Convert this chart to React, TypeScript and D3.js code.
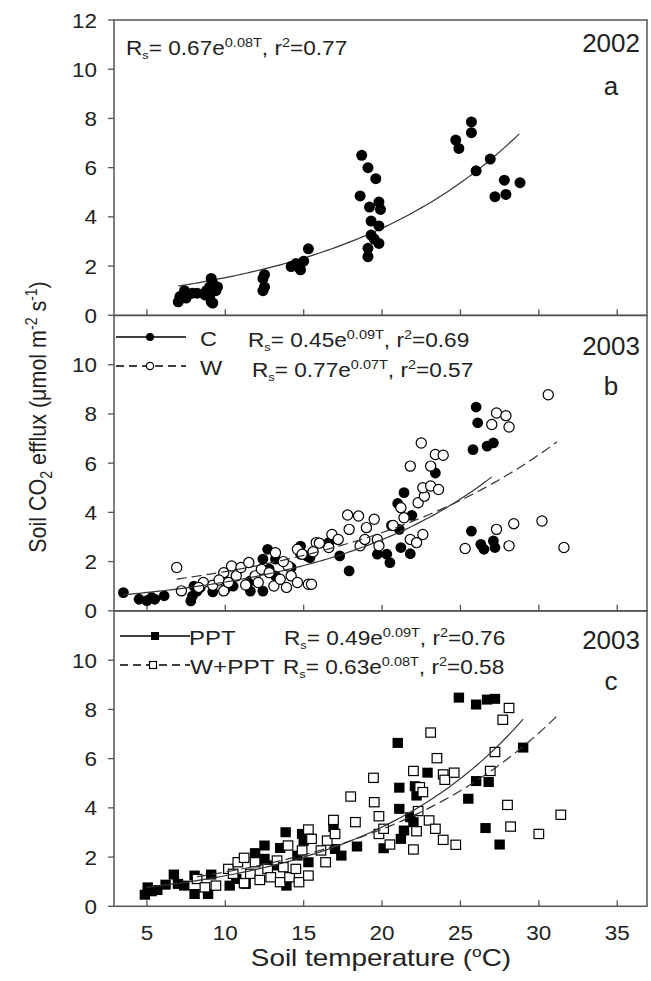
import React from 'react';
import * as d3 from 'd3';

// panel a, 2002
const aTemp = [7.0,7.1,7.4,7.5,7.9,8.2,8.7,9.0,9.1,9.2,9.1,9.0,9.4,9.5,8.8,9.2,7.4, 12.4,12.5,12.4,12.5, 14.2,14.5,14.8,15.0,15.3,14.6, 18.7,19.1,19.6,18.6,19.2,19.8,19.9,19.3,19.8,19.3,19.5,19.8,19.1,19.1, 24.7,24.9,25.7,25.7,26.0,26.9,27.2,27.8,27.9,28.8];
const aFlux = [0.55,0.76,0.9,0.7,0.9,0.9,0.83,1.15,1.5,1.3,0.55,0.76,1.0,1.15,1.0,0.5,1.0, 1.5,1.65,1.0,1.15, 1.98,2.1,1.85,2.2,2.7,1.98, 6.5,6.0,5.55,4.85,4.4,4.6,4.3,3.83,3.63,3.26,3.1,2.92,2.72,2.38, 7.12,6.78,7.86,7.42,5.87,6.35,4.82,5.49,4.91,5.39];

// panel b, 2003 control (C)
const cTemp = [3.5,4.5,5.0,5.3,5.5,6.1, 7.8,7.9,8.0,8.2,9.2,10.5,11.6,12.4, 12.7,12.4,12.8,13.2, 14.8,14.8,15.2, 16.6,17.3,17.9, 19.7,20.3,20.5,20.6,21.1,21.0,21.4,21.2,21.8,21.9, 23.4, 25.8,26.0,26.1,26.7,27.1, 25.7,26.3,26.5,27.1,27.2, 11.6,13.2,14.2,15.4,8.4,10.0];
const cFlux = [0.74,0.47,0.41,0.54,0.47,0.61, 0.4,0.6,1.0,0.8,0.77,1.0,0.8,0.8, 2.5,2.1,1.7,2.1, 2.63,2.3,2.23, 2.77,2.23,1.62, 2.3,2.3,1.96,3.47,3.31,4.36,4.8,2.57,2.32,3.88, 5.6, 6.55,8.28,7.64,6.69,6.82, 3.24,2.7,2.5,2.84,2.57, 1.22,1.42,1.76,2.16,0.95,0.88];

// panel b, 2003 warming (W)
const wTemp = [6.9,7.2,8.6,9.2,9.9,9.9,10.4,10.7,11.0,11.5, 11.9,12.3,12.8,13.2,13.1,13.5,13.9,14.0,14.2,14.6, 14.6,15.3,15.5,15.8,16.6,16.8,17.2,17.8,17.9,18.5, 18.6,19.0,18.9,19.5,19.7,19.8,20.7,21.2,21.4,21.8, 21.8,22.2,22.3,22.5,22.6,22.7,22.6,23.1,23.1,23.4, 23.6,23.9,25.3,27.0,27.3,27.3,27.9,28.1,28.1,28.4, 30.2,30.6,31.6, 8.3,9.6,10.2,11.3,12.1,13.7,14.9,15.6,16.0];
const wFlux = [1.76,0.81,1.15,1.04,1.55,0.81,1.82,1.42,1.76,1.96, 1.42,1.69,1.55,2.36,1.01,1.28,0.95,1.82,1.42,1.15, 2.5,1.08,1.08,2.77,2.57,3.1,2.9,3.89,3.31,3.85, 2.64,3.38,2.9,3.72,2.9,2.64,3.47,4.19,3.78,5.88, 2.9,2.77,4.39,6.82,3.1,4.66,5.0,5.88,5.07,6.35, 4.93,6.32,2.53,7.57,8.04,3.31,7.93,7.47,2.64,3.54, 3.65,8.78,2.57, 0.95,1.25,1.15,1.05,1.15,2.0,2.3,2.4,2.75];

// panel c, 2003 precipitation (PPT)
const pTemp = [4.87,5.05,5.3,5.66,6.19,6.72,6.98,7.38,8.04,8.04, 8.9,9.1,10.28,10.7,11.3,11.9,12.0,12.5,12.5,13.1, 13.5,13.85,13.9,14.6,14.9,15.0,15.3,16.9,17.0,17.4, 18.4,20.1,21.0,21.1,21.1,21.2,21.4,21.8,22.0,22.1, 22.2,22.9,24.9,25.5,26.0,26.0,26.6,26.7,26.8,27.2, 27.5,29.0];
const pFlux = [0.47,0.77,0.61,0.66,0.88,1.29,0.91,0.84,1.25,0.5, 0.5,1.29,0.84,1.11,0.91,2.16,1.86,2.47,1.93,1.66, 2.37,3.01,0.84,2.06,2.94,2.67,1.79,3.22,2.33,2.06, 2.43,2.36,6.64,4.82,3.96,2.74,3.08,3.62,3.42,4.88, 4.5,5.43,8.48,4.37,8.2,5.09,3.18,8.4,5.05,8.43, 2.51,6.45];

// panel c, 2003 warming + precipitation (W+PPT)
const qTemp = [8.2,8.7,9.4,10.2,10.5,10.8,11.2,11.2,11.6,11.9, 12.2,12.7,12.9,13.3,13.5,13.7,14.0,14.1,14.5,14.7, 14.9,15.3,15.3,15.5,16.1,16.4,16.5,16.9,17.0,18.0, 18.3,19.45,19.5,19.8,19.8,20.1,20.5,22.0,22.0,22.2, 22.3,22.4,22.6,23.0,23.1,23.4,23.5,23.9,23.9,24.0, 24.6,24.7,26.9,27.2,27.7,28.0,28.1,28.2,30.0,31.4];
const qFlux = [1.11,0.77,0.84,1.52,1.32,1.79,1.97,0.94,1.32,1.79, 1.07,1.52,1.18,1.86,0.98,1.59,2.47,1.18,1.52,0.98, 2.27,3.12,1.25,2.74,2.27,1.79,2.67,3.51,2.94,4.46, 3.42,5.22,4.23,3.66,2.94,3.15,2.51,2.31,5.5,3.05, 3.87,4.84,4.64,3.49,7.06,3.15,6.02,2.7,5.36,5.14, 5.43,2.5,5.5,6.27,7.58,4.12,8.06,3.24,2.94,3.72];

// fitted curves: [a, b, Tmin, Tmax]  Rs = a*exp(b*T)
const fitA = [0.661, 0.0839, 7.0, 28.9];
const fitC = [0.474, 0.0904, 3.5, 27.2];
const fitW = [0.80, 0.069, 6.9, 31.3];
const fitP = [0.478, 0.0954, 5.0, 29.0];
const fitQ = [0.62, 0.081, 8.2, 31.4];

const xTicks = [5, 10, 15, 20, 25, 30, 35];
const yTicksA = [0, 2, 4, 6, 8, 10, 12];
const yTicksBC = [0, 2, 4, 6, 8, 10];

const FONT = '"Liberation Sans", Arial, sans-serif';
const L = 114, R = 647;
const panelTops = [20, 315.5, 611];
const PH = 295.3;
const INK = '#222';
const FRAME = '#555';

const x = d3.scaleLinear().domain([2.9, 36.9]).range([L, R]);

// text drawn a bit wider than the font, like the scanned figure
function Txt({ x: tx, y: ty, size, sx = 1, anchor = 'start', children }) {
  return (
    <g transform={`translate(${tx},${ty}) scale(${sx},1)`}>
      <text x={0} y={0} textAnchor={anchor} fontSize={size} fontFamily={FONT} fill={INK}>{children}</text>
    </g>
  );
}

function Formula({ xx, yy, a, b, r2 }) {
  return (
    <Txt x={xx} y={yy} size={19.5} sx={1.16}>
      R<tspan dy={4} fontSize={11}>s</tspan>
      <tspan dy={-4}>= {a}e</tspan>
      <tspan dy={-8} fontSize={12.5}>{b}T</tspan>
      <tspan dy={8}>, r</tspan>
      <tspan dy={-8} fontSize={12.5}>2</tspan>
      <tspan dy={8}>={r2}</tspan>
    </Txt>
  );
}

function Panel({ top, yTicks, showX, children }) {
  const y = d3.scaleLinear().domain([0, 12]).range([top + PH, top]);
  return (
    <g>
      <rect x={L} y={top} width={R - L} height={PH} fill="none" stroke={FRAME} strokeWidth={1.5} />
      {yTicks.map(t => (
        <g key={'y' + t}>
          <line x1={L - 6} x2={L} y1={y(t)} y2={y(t)} stroke={FRAME} strokeWidth={1.3} />
          <Txt x={97} y={y(t) + 7.5} size={21} sx={1.07} anchor="end">{t}</Txt>
        </g>
      ))}
      {xTicks.map(t => (
        <g key={'x' + t}>
          <line x1={x(t)} x2={x(t)} y1={top + PH} y2={top + PH - 6} stroke={FRAME} strokeWidth={1.3} />
          {showX && <Txt x={x(t)} y={top + PH + 34} size={21} sx={1.07} anchor="middle">{t}</Txt>}
        </g>
      ))}
      {children(y)}
    </g>
  );
}

function curve(fit, y) {
  const [a, b, t0, t1] = fit;
  const pts = d3.range(t0, t1 + 0.001, 0.25).map(t => [t, a * Math.exp(b * t)]);
  return d3.line().x(d => x(d[0])).y(d => y(d[1]))(pts);
}

export default function App() {
  return (
    <svg width={651} height={981} style={{ position: 'absolute', left: 0, top: 0, background: '#fff' }}>
      <Panel top={panelTops[0]} yTicks={yTicksA} showX={false}>
        {y => (
          <g>
            <path d={curve(fitA, y)} fill="none" stroke="#333" strokeWidth={1.2} />
            {aTemp.map((t, i) => <circle key={i} cx={x(t)} cy={y(aFlux[i])} r={5.5} fill="#000" />)}
            <Formula xx={126} yy={55} a="0.67" b="0.08" r2="0.77" />
            <Txt x={640} y={52} size={26} anchor="end">2002</Txt>
            <Txt x={611} y={95} size={26} anchor="middle">a</Txt>
          </g>
        )}
      </Panel>
      <Panel top={panelTops[1]} yTicks={yTicksBC} showX={false}>
        {y => (
          <g>
            {cTemp.map((t, i) => <circle key={i} cx={x(t)} cy={y(cFlux[i])} r={5.4} fill="#000" />)}
            {wTemp.map((t, i) => <circle key={i} cx={x(t)} cy={y(wFlux[i])} r={5.1} fill="#fff" stroke="#000" strokeWidth={1.2} />)}
            <path d={curve(fitC, y)} fill="none" stroke="#333" strokeWidth={1.2} />
            <path d={curve(fitW, y)} fill="none" stroke="#333" strokeWidth={1.2} strokeDasharray="10,5" />
            <line x1={116} x2={186} y1={337} y2={337} stroke="#000" strokeWidth={1.5} />
            <circle cx={150} cy={337} r={4} fill="#000" />
            <Txt x={200} y={346} size={21} sx={1.12}>C</Txt>
            <line x1={116} x2={186} y1={366} y2={366} stroke="#000" strokeWidth={1.5} strokeDasharray="8,5" />
            <circle cx={150} cy={366} r={3.6} fill="#fff" stroke="#000" strokeWidth={1.2} />
            <Txt x={200} y={375} size={21} sx={1.12}>W</Txt>
            <Formula xx={248} yy={347} a="0.45" b="0.09" r2="0.69" />
            <Formula xx={252} yy={377} a="0.77" b="0.07" r2="0.57" />
            <Txt x={640} y={355} size={26} anchor="end">2003</Txt>
            <Txt x={611} y={395} size={26} anchor="middle">b</Txt>
          </g>
        )}
      </Panel>
      <Panel top={panelTops[2]} yTicks={yTicksBC} showX={true}>
        {y => (
          <g>
            {pTemp.map((t, i) => <rect key={i} x={x(t) - 5.2} y={y(pFlux[i]) - 5} width={10.4} height={10} fill="#000" />)}
            {qTemp.map((t, i) => <rect key={i} x={x(t) - 4.8} y={y(qFlux[i]) - 4.6} width={9.6} height={9.2} fill="#fff" stroke="#000" strokeWidth={1.2} />)}
            <path d={curve(fitP, y)} fill="none" stroke="#333" strokeWidth={1.2} />
            <path d={curve(fitQ, y)} fill="none" stroke="#333" strokeWidth={1.2} strokeDasharray="10,5" />
            <line x1={120} x2={190} y1={636} y2={636} stroke="#000" strokeWidth={1.5} />
            <rect x={151} y={632} width={8} height={8} fill="#000" />
            <Txt x={189} y={645} size={21} sx={1.14}>PPT</Txt>
            <line x1={120} x2={190} y1={665} y2={665} stroke="#000" strokeWidth={1.5} strokeDasharray="8,5" />
            <rect x={149.5} y={661.5} width={7} height={7} fill="#fff" stroke="#000" strokeWidth={1.2} />
            <Txt x={190} y={674} size={21} sx={1.16}>W+PPT</Txt>
            <Formula xx={284} yy={645} a="0.49" b="0.09" r2="0.76" />
            <Formula xx={283} yy={674} a="0.63" b="0.08" r2="0.58" />
            <Txt x={640} y={649} size={26} anchor="end">2003</Txt>
            <Txt x={611} y={690} size={26} anchor="middle">c</Txt>
          </g>
        )}
      </Panel>
      <Txt x={381} y={966} size={24} sx={1.16} anchor="middle">
        Soil temperature (<tspan dy={-9} fontSize={15}>o</tspan><tspan dy={9}>C)</tspan>
      </Txt>
      <text transform="translate(46,417) rotate(-90) scale(1,1.12)" textAnchor="middle" fontSize={21.5} fontFamily={FONT} fill={INK}>
        Soil CO<tspan dy={5} fontSize={14}>2</tspan><tspan dy={-5}> efflux (μmol m</tspan>
        <tspan dy={-8} fontSize={14}>-2</tspan><tspan dy={8}> s</tspan>
        <tspan dy={-8} fontSize={14}>-1</tspan><tspan dy={8}>)</tspan>
      </text>
    </svg>
  );
}
